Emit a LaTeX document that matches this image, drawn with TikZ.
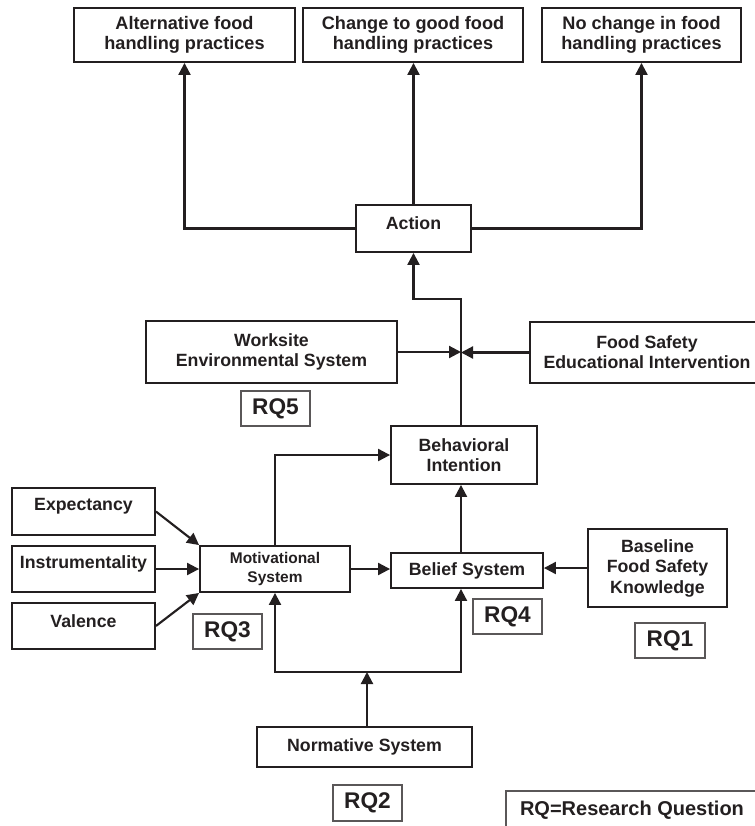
\documentclass[tikz,border=0pt]{standalone}
\usepackage{fontspec}
\setmainfont{Liberation Sans}
\usetikzlibrary{arrows.meta,calc}
\definecolor{ink}{HTML}{231F20}
\begin{document}
\begin{tikzpicture}[x=0.75pt,y=-0.75pt,
  wh/.style 2 args={minimum width=#1*0.75pt, minimum height=#2*0.75pt},
  box/.style={draw=ink, line width=1.4pt, inner sep=0pt, align=center, text=ink,
    font=\bfseries\fontsize{13.3}{15}\selectfont},
  topbox/.style={box, font=\bfseries\fontsize{13.6}{14.6}\selectfont},
  smallbox/.style={box, font=\bfseries\fontsize{11.6}{13.8}\selectfont},
  tallbox/.style={box, font=\bfseries\fontsize{13.3}{15.4}\selectfont},
  rq/.style={draw=ink!75, line width=0.8pt, inner sep=0pt, text=ink,
    font=\bfseries\fontsize{17}{20}\selectfont},
  txt/.style={text=ink, align=center, inner sep=0pt,
    font=\bfseries\fontsize{13.3}{15}\selectfont},
  legtxt/.style={text=ink, inner sep=0pt, font=\bfseries\fontsize{15}{18}\selectfont},
  conn/.style={draw=ink, line width=1.6pt},
  arr/.style={conn, -{Triangle[length=9pt,width=9pt]}},
]
\useasboundingbox (0,0) rectangle (755,826);

% outcome boxes
\node[topbox, wh={221}{54}] (o1) at (184.5,35) {Alternative food\\handling practices};
\node[topbox, wh={220}{54}] (o2) at (413,35) {Change to good food\\handling practices};
\node[topbox, wh={199}{54}] (o3) at (641.5,35) {No change in food\\handling practices};

% action
\node[box, wh={115}{47}] (action) at (413.5,228.5) {};
\node[txt] (actiontxt) at ($(action.center)+(0,-5)$) {Action};

% environment / intervention
\node[box, wh={251}{62}] (wes) at (271.5,352) {Worksite\\Environmental System};
\node[box, wh={234}{61}] (fsei) at (647,352.5) {Food Safety\\Educational Intervention};
\node[rq, wh={69}{35}] (rq5) at (275.5,408.5) {RQ5};

% behavioral intention
\node[box, wh={146}{58}] (bi) at (464,455) {Behavioral\\Intention};

% left inputs
\node[box, wh={143}{47}] (exp) at (83.5,511.5) {};
\node[txt] (exptxt) at ($(exp.center)+(0,-5)$) {Expectancy};
\node[box, wh={143}{46}] (inst) at (83.5,569) {};
\node[txt] (insttxt) at ($(inst.center)+(0,-5)$) {Instrumentality};
\node[box, wh={143}{46}] (val) at (83.5,626) {};
\node[txt] (valtxt) at ($(val.center)+(0,-5)$) {Valence};

\node[smallbox, wh={150}{46}] (mot) at (275,569) {Motivational\\System};
\node[box, wh={152}{35}] (bs) at (467,570.5) {Belief System};
\node[tallbox, wh={139}{78}] (bfsk) at (657.5,568) {Baseline\\Food Safety\\Knowledge};

\node[rq, wh={69}{35}] (rq3) at (227.5,631.5) {RQ3};
\node[rq, wh={69}{35}] (rq4) at (507.5,616.5) {RQ4};
\node[rq, wh={70}{35}] (rq1) at (670,640.5) {RQ1};

\node[box, wh={215}{40}] (ns) at (364.5,747) {Normative System};
\node[rq, wh={69}{36}] (rq2) at (367.5,803) {RQ2};

% legend (cut by the page edge)
\node[rq, wh={258}{43}] (legend) at (635,812.5) {};
\node[legtxt] (legtxt) at (632,810) {RQ=Research Question};

% helper coordinates
\coordinate (junc) at (461,351);
\coordinate (jog) at (461,299);
\coordinate (split) at (367,672);

% connectors
\draw[arr] (action.north) -- (action.north |- o2.south);
\draw[arr] (action.west) -| (o1.south);
\draw[arr] (action.east) -| (o3.south);
\draw[arr] (bi.north -| jog) -- (jog) -| (action.south);
\draw[arr] (wes.east) -- (wes.east -| junc);
\draw[arr] (fsei.west) -- (fsei.west -| junc);
\draw[arr] (mot.north) |- (bi.west);
\draw[arr] (bs.north -| junc) -- (bi.south -| junc);
\draw[arr] (mot.east) -- (mot.east -| bs.west);
\draw[arr] (bfsk.west) -- (bfsk.west -| bs.east);
\draw[arr] (exp.east) -- (mot.north west);
\draw[arr] (inst.east) -- (mot.west);
\draw[arr] (val.east) -- (mot.south west);
\draw[arr] (split) -| (mot.south);
\draw[arr] (split) -| (bs.south -| junc);
\draw[arr] (ns.north -| split) -- (split);
\end{tikzpicture}
\end{document}
